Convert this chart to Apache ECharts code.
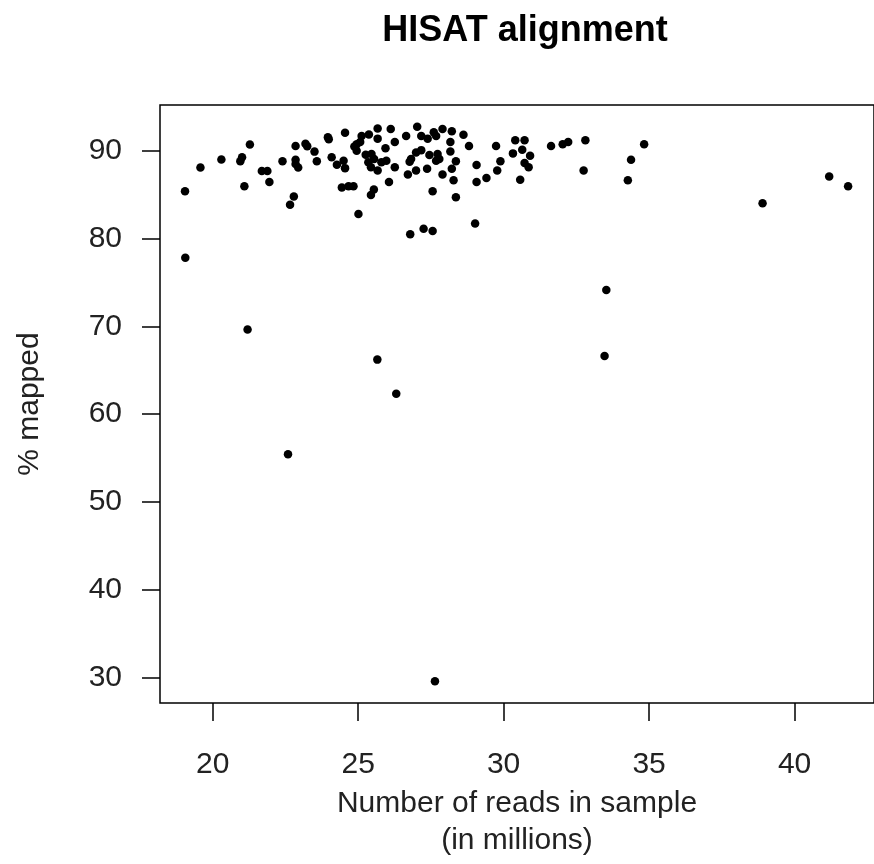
<!DOCTYPE html>
<html>
<head>
<meta charset="utf-8">
<script src="https://cdn.jsdelivr.net/npm/echarts@6/dist/echarts.min.js"></script>
<style>html,body{margin:0;padding:0;background:#fff;}#c{width:874px;height:864px;}</style>
</head>
<body>
<div id="c"></div>
<script>
const reads = [
19.05,19.58,20.30,21.28,21.01,20.95,21.09,21.69,21.88,21.95,22.40,22.85,22.85,22.85,22.94,23.19,23.25,23.50,23.58,23.96,23.99,24.09,24.27,22.79,22.66,
25.67,26.12,27.03,27.90,28.22,24.55,25.12,25.37,25.67,25.07,24.95,24.87,26.65,27.17,27.39,27.60,27.68,26.26,28.17,28.62,28.81,29.74,25.94,28.17,24.95,
25.26,25.46,26.99,27.17,27.45,27.73,26.82,26.77,25.55,25.80,25.97,27.79,27.68,28.36,29.89,24.50,25.35,24.55,25.44,25.67,26.26,29.07,28.22,27.37,26.99,
26.71,27.90,29.78,29.41,28.28,29.07,26.06,24.44,24.67,24.84,25.54,25.44,27.56,28.36,25.01,29.02,27.25,27.56,26.79,
30.40,30.72,30.32,30.64,30.91,30.72,30.86,30.57,31.63,32.03,32.22,32.81,32.75,34.83,34.38,34.27,
38.90,41.19,41.84,
19.06,21.20,25.66,26.31,22.59,33.53,33.47,27.64
];
const mapped = [
85.40,88.10,89.00,90.70,89.25,88.80,85.96,87.70,87.70,86.45,88.80,90.55,88.98,88.50,88.10,90.80,90.50,89.90,88.80,91.55,91.30,89.25,88.40,84.80,83.85,
92.53,92.49,92.72,92.49,92.23,92.05,91.67,91.86,91.38,91.00,90.74,90.48,91.67,91.67,91.38,92.11,91.67,91.00,91.00,91.82,90.55,90.55,90.29,89.92,89.99,
89.54,89.62,89.81,90.07,89.51,89.62,89.06,88.76,89.06,88.69,88.87,89.06,88.87,88.80,88.80,88.87,88.69,88.02,88.13,87.75,88.13,88.39,87.94,87.94,87.75,
87.30,87.30,87.75,86.90,86.63,86.45,86.45,85.82,85.96,85.96,85.59,84.96,85.40,84.70,82.80,81.71,81.12,80.86,80.48,
91.19,91.19,89.70,90.10,89.43,88.61,88.13,86.71,90.55,90.74,91.00,91.19,87.75,90.74,88.98,86.63,
84.03,87.08,85.96,
77.80,69.63,66.21,62.33,55.43,74.15,66.61,29.58
];
const xTicks = [20, 25, 30, 35, 40];
const yTicks = [30, 40, 50, 60, 70, 80, 90];
const titleText = 'HISAT alignment';
const xName = 'Number of reads in sample\n(in millions)';
const yName = '% mapped';

const points = reads.map((r, i) => [r, mapped[i]]);
const FONT = '"Liberation Sans", Arial, sans-serif';

const chart = echarts.init(document.getElementById('c'), null, {renderer: 'canvas'});
chart.setOption({
  backgroundColor: '#ffffff',
  animation: false,
  title: {
    text: titleText,
    left: 520,
    textAlign: 'center',
    top: 8,
    textStyle: {fontFamily: FONT, fontSize: 36, fontWeight: 'bold', color: '#000'}
  },
  grid: {
    left: 160, top: 105, width: 720, height: 609,
    show: true, borderColor: '#000', borderWidth: 1.5, backgroundColor: 'transparent'
  },
  xAxis: {
    type: 'value',
    min: 18.19, max: 42.73,
    splitLine: {show: false},
    axisLine: {show: false},
    axisTick: {show: true, inside: false, length: 18, customValues: xTicks, lineStyle: {color: '#000', width: 1.5}},
    axisLabel: {show: true, customValues: xTicks, margin: 47, fontFamily: FONT, fontSize: 30, color: '#222',
      showMinLabel: true, showMaxLabel: true},
    name: xName,
    nameLocation: 'middle',
    nameGap: 77,
    nameTextStyle: {fontFamily: FONT, fontSize: 30, color: '#222', lineHeight: 37, verticalAlign: 'top'}
  },
  yAxis: {
    type: 'value',
    min: 27.09, max: 95.21,
    splitLine: {show: false},
    axisLine: {show: false},
    axisTick: {show: true, inside: false, length: 18, customValues: yTicks, lineStyle: {color: '#000', width: 1.5}},
    axisLabel: {show: true, customValues: yTicks, margin: 38, fontFamily: FONT, fontSize: 30, color: '#222'},
    name: yName,
    nameLocation: 'middle',
    nameGap: 115,
    nameRotate: 90,
    nameTextStyle: {fontFamily: FONT, fontSize: 30, color: '#222'}
  },
  series: [{
    type: 'scatter',
    data: points,
    symbol: 'circle',
    symbolSize: 8.5,
    itemStyle: {color: '#000', opacity: 1},
    clip: false
  }]
});
</script>
</body>
</html>
